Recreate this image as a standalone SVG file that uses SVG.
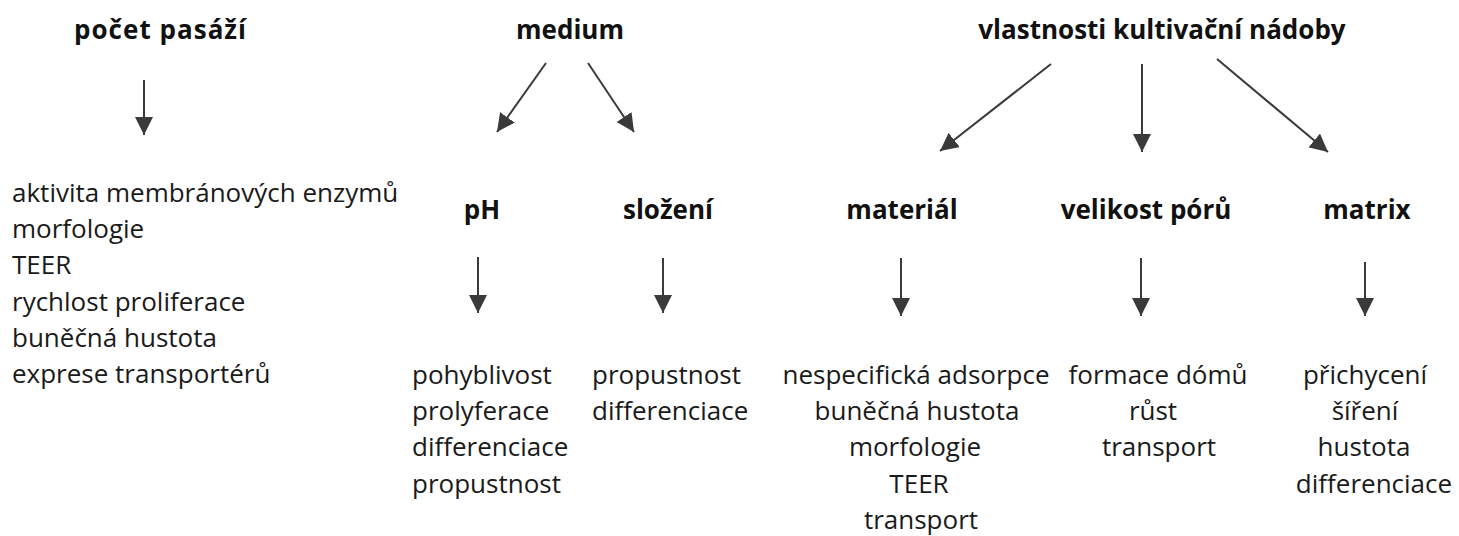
<svg xmlns="http://www.w3.org/2000/svg" width="1459" height="536" viewBox="0 0 1459 536">
  <style>
    .head { font-family: "Open Sans", "Noto Sans", sans-serif; font-weight: bold; font-size: 26px; fill: #111; text-anchor: middle; }
    .item { font-family: "Open Sans", "Noto Sans", sans-serif; font-size: 26px; fill: #1a1a1a; }
    .mid { text-anchor: middle; }
    .arrow { stroke: #3a3a3a; stroke-width: 2; fill: none; marker-end: url(#tip); }
  </style>
  <defs>
    <marker id="tip" markerUnits="userSpaceOnUse" markerWidth="18" markerHeight="18" viewBox="0 0 16 16" refX="16" refY="8" orient="auto">
      <path d="M0,0 L16,8 L0,16 Z" fill="#3a3a3a"/>
    </marker>
  </defs>
  <rect width="1459" height="536" fill="#ffffff"/>

  <!-- top-level factors -->
  <g id="pocet-pasazi">
    <text class="head" x="160" y="39" textLength="172" lengthAdjust="spacing">počet pasáží</text>
    <g class="item">
      <text x="12" y="202">aktivita membránových enzymů</text>
      <text x="12" y="238">morfologie</text>
      <text x="12" y="274">TEER</text>
      <text x="12" y="311">rychlost proliferace</text>
      <text x="12" y="347">buněčná hustota</text>
      <text x="12" y="383">exprese transportérů</text>
    </g>
  </g>

  <g id="medium">
    <text class="head" x="570" y="39">medium</text>
  </g>

  <g id="vlastnosti">
    <text class="head" x="1162" y="39">vlastnosti kultivační nádoby</text>
  </g>

  <!-- medium branches -->
  <g id="ph">
    <text class="head" x="482" y="219">pH</text>
    <g class="item">
      <text x="412" y="384">pohyblivost</text>
      <text x="412" y="420">prolyferace</text>
      <text x="412" y="456">differenciace</text>
      <text x="412" y="493">propustnost</text>
    </g>
  </g>

  <g id="slozeni">
    <text class="head" x="668" y="219">složení</text>
    <g class="item">
      <text x="592" y="384">propustnost</text>
      <text x="592" y="420">differenciace</text>
    </g>
  </g>

  <!-- vessel property branches -->
  <g id="material">
    <text class="head" x="902" y="219">materiál</text>
    <g class="item mid">
      <text x="916" y="384">nespecifická adsorpce</text>
      <text x="917" y="420">buněčná hustota</text>
      <text x="915" y="456">morfologie</text>
      <text x="919" y="493">TEER</text>
      <text x="921" y="529">transport</text>
    </g>
  </g>

  <g id="velikost-poru">
    <text class="head" x="1146" y="219">velikost pórů</text>
    <g class="item mid">
      <text x="1158" y="384">formace dómů</text>
      <text x="1153" y="420">růst</text>
      <text x="1159" y="456">transport</text>
    </g>
  </g>

  <g id="matrix">
    <text class="head" x="1367" y="219">matrix</text>
    <g class="item mid">
      <text x="1365" y="384">přichycení</text>
      <text x="1365" y="420">šíření</text>
      <text x="1364" y="456">hustota</text>
      <text x="1374" y="493">differenciace</text>
    </g>
  </g>

  <!-- connectors -->
  <g id="connectors">
    <line class="arrow" x1="144" y1="80" x2="144" y2="135"/>
    <line class="arrow" x1="546" y1="63" x2="497" y2="132"/>
    <line class="arrow" x1="588" y1="63" x2="634" y2="132"/>
    <line class="arrow" x1="1051" y1="64" x2="940" y2="151"/>
    <line class="arrow" x1="1142" y1="64" x2="1142" y2="152"/>
    <line class="arrow" x1="1217" y1="59" x2="1328" y2="152"/>
    <line class="arrow" x1="478" y1="257" x2="478" y2="313"/>
    <line class="arrow" x1="663" y1="258" x2="663" y2="313"/>
    <line class="arrow" x1="901" y1="258" x2="901" y2="316"/>
    <line class="arrow" x1="1141" y1="258" x2="1141" y2="316"/>
    <line class="arrow" x1="1365" y1="262" x2="1365" y2="316"/>
  </g>
</svg>
